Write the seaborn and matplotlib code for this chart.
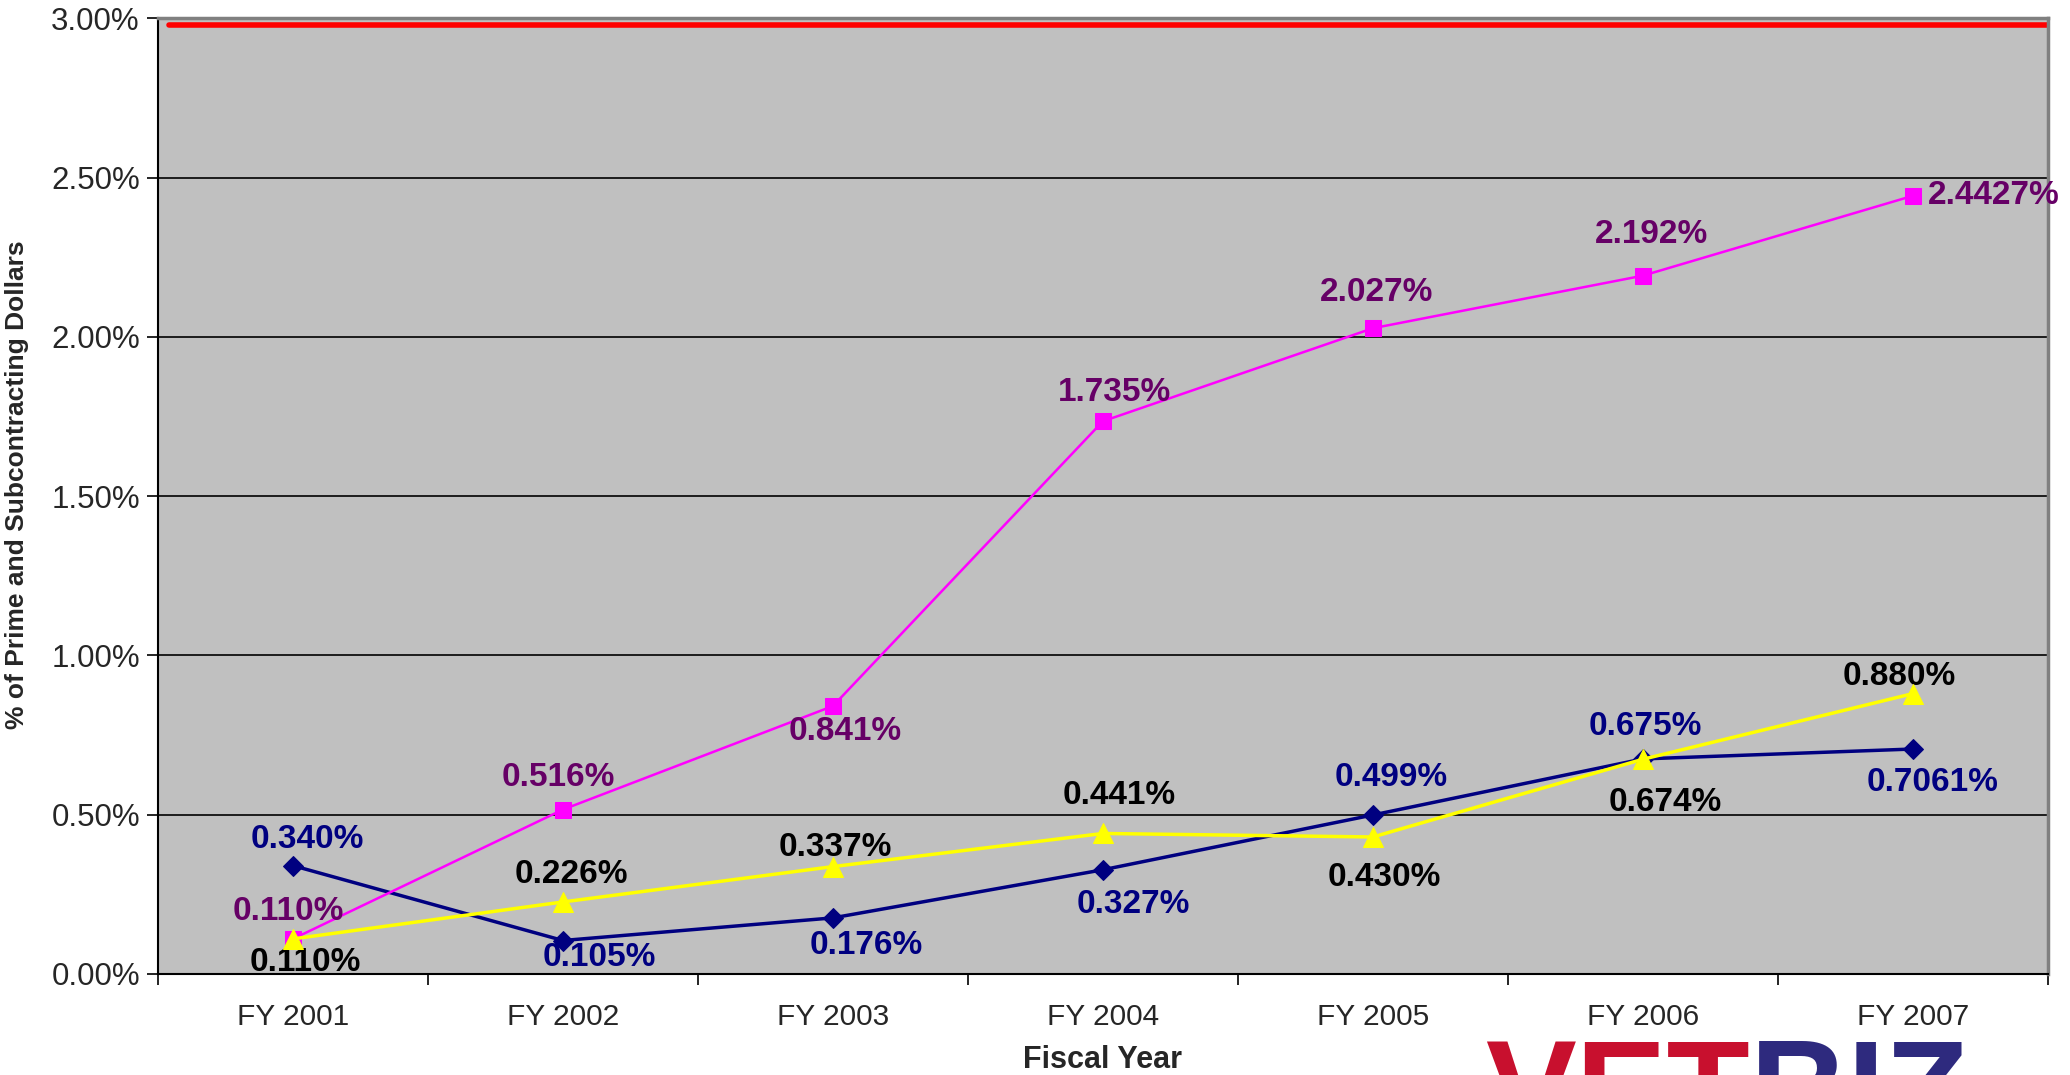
import matplotlib
matplotlib.use("Agg")
import matplotlib.pyplot as plt
import seaborn as sns
import pandas as pd
import numpy as np

# data (percent)
years = ["FY 2001", "FY 2002", "FY 2003", "FY 2004", "FY 2005", "FY 2006", "FY 2007"]
pink_vals = [0.110, 0.516, 0.841, 1.735, 2.027, 2.192, 2.4427]
navy_vals = [0.340, 0.105, 0.176, 0.327, 0.499, 0.675, 0.7061]
yellow_vals = [0.110, 0.226, 0.337, 0.441, 0.430, 0.674, 0.880]
pink_labels = ["0.110%", "0.516%", "0.841%", "1.735%", "2.027%", "2.192%", "2.4427%"]
navy_labels = ["0.340%", "0.105%", "0.176%", "0.327%", "0.499%", "0.675%", "0.7061%"]
yellow_labels = ["0.110%", "0.226%", "0.337%", "0.441%", "0.430%", "0.674%", "0.880%"]
goal = 2.98
y_ticks = [0.0, 0.5, 1.0, 1.5, 2.0, 2.5, 3.0]

# label offsets (points) so the labels sit where they do in the original
pink_off = [(-3, 20), (-3, 23), (9, -18), (8, 21), (3, 26), (6, 30), (None, 0)]
navy_off = [(10, 19), (26, -12), (24, -20), (22, -25), (13, 27), (2, 23), (14, -24)]
yellow_off = [(9, -17), (6, 20), (2, 14), (12, 27), (8, -29), (16, -31), (-10, 12)]

sns.set_theme(style="white")
plt.rcParams["font.family"] = ["Liberation Sans", "DejaVu Sans"]

fig = plt.figure(figsize=(20.7, 10.75), dpi=100)
ax = fig.add_axes([0.0763, 0.094, 0.913, 0.889])
ax.set_facecolor("#C0C0C0")

df = pd.DataFrame({"year": years, "pink": pink_vals, "navy": navy_vals, "yellow": yellow_vals})

ax.axhline(goal, xmin=0.006, xmax=1, color="#FF0000", lw=4, zorder=2)

sns.lineplot(data=df, x="year", y="navy", ax=ax, color="#000080", lw=2.5,
             marker="D", markersize=10, markeredgecolor="#000080", zorder=3, sort=False)
sns.lineplot(data=df, x="year", y="yellow", ax=ax, color="#FFFF00", lw=2.5,
             marker="^", markersize=14, markeredgecolor="#FFFF00", zorder=4, sort=False)
sns.lineplot(data=df, x="year", y="pink", ax=ax, color="#FF00FF", lw=1.8,
             marker="s", markersize=11.5, markeredgecolor="#FF00FF", zorder=3, sort=False)

def put_labels(vals, labels, offs, color):
    for i, (v, lab, off) in enumerate(zip(vals, labels, offs)):
        dx, dy = off
        if dx is None:
            ax.annotate(lab, (i, v), xytext=(11, dy), textcoords="offset points",
                        ha="left", va="center", color=color, fontsize=24,
                        fontweight="bold", annotation_clip=False)
        else:
            ax.annotate(lab, (i, v), xytext=(dx, dy), textcoords="offset points",
                        ha="center", va="center", color=color, fontsize=24,
                        fontweight="bold")

put_labels(pink_vals, pink_labels, pink_off, "#660066")
put_labels(navy_vals, navy_labels, navy_off, "#000080")
put_labels(yellow_vals, yellow_labels, yellow_off, "#000000")

ax.set_xlim(-0.5, len(years) - 0.5)
ax.set_ylim(0, 3.0)
ax.set_yticks(y_ticks)
ax.set_yticklabels([f"{t:.2f}%" for t in y_ticks])
ax.yaxis.grid(True, color="#000000", lw=1.2)
ax.xaxis.grid(False)
ax.set_axisbelow(True)

ax.set_xticks(np.arange(-0.5, len(years), 1), minor=True)
ax.tick_params(axis="x", which="major", length=0, pad=21, labelsize=21.5)
ax.tick_params(axis="x", which="minor", length=8, width=1.2, color="black", direction="out", bottom=True)
ax.tick_params(axis="y", length=8, width=1.2, color="black", direction="out", left=True, labelsize=22.5, pad=5)

ax.set_xlabel("Fiscal Year", fontsize=22, fontweight="bold", labelpad=10)
ax.set_ylabel("% of Prime and Subcontracting Dollars", fontsize=19, fontweight="bold")
ax.yaxis.set_label_coords(-0.068, 0.512)

for s in ["left", "bottom"]:
    ax.spines[s].set_color("black")
    ax.spines[s].set_linewidth(1.5)
for s in ["top", "right"]:
    ax.spines[s].set_color("#808080")
    ax.spines[s].set_linewidth(2.5)

# logo text, cut off at the bottom of the picture as in the original
fig.text(1750 / 2070, -0.056, "VET", color="#C8102E", fontsize=98, fontweight="bold",
         ha="right", va="baseline")
fig.text(1750 / 2070, -0.056, "BIZ", color="#2E2A7E", fontsize=98, fontweight="bold",
         ha="left", va="baseline")

fig.savefig("out.png", dpi=100)
